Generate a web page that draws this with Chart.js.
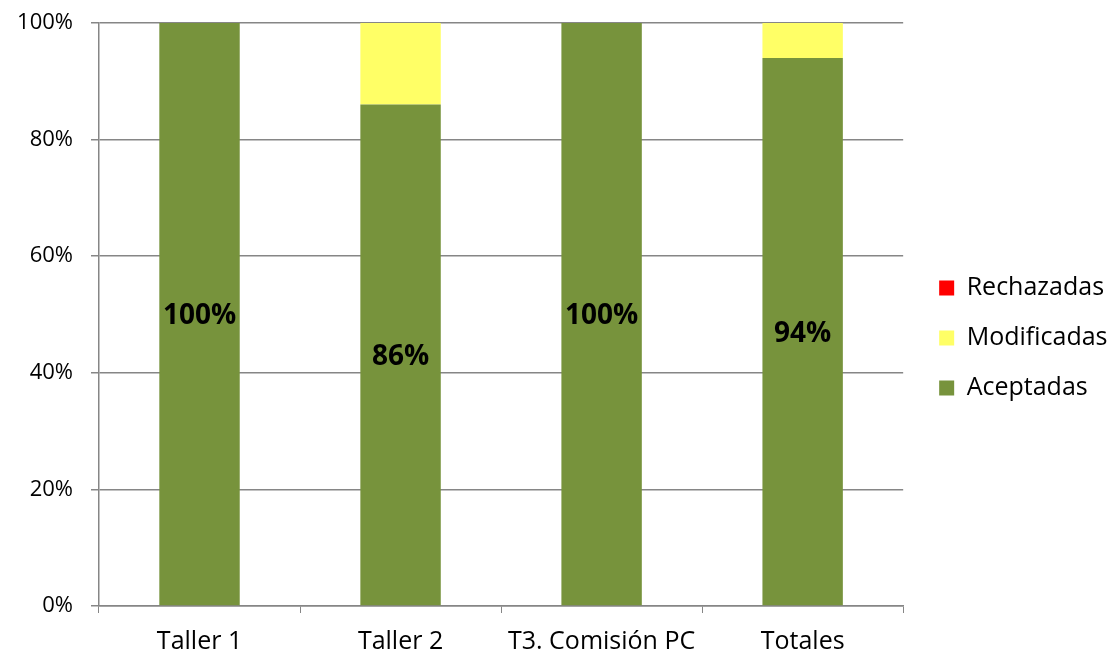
<!DOCTYPE html>
<html>
<head>
<meta charset="utf-8">
<script src="https://cdn.jsdelivr.net/npm/chart.js@4"></script>
<style>
  html, body { margin: 0; padding: 0; background: #fff; }
  #wrap { width: 1111px; height: 653px; }
</style>
</head>
<body>
<div id="wrap"><canvas id="grafica1" width="1111" height="653"></canvas></div>
<script>
// Datos (porcentajes)
const categorias = ['Taller 1', 'Taller 2', 'T3. Comisión PC', 'Totales'];
const aceptadas = [100, 86, 100, 94];
const modificadas = [0, 14, 0, 6];
const rechazadas = [0, 0, 0, 0];
const ticksY = [0, 20, 40, 60, 80, 100];

const gris = '#868686';
const fuente = '"Open Sans", sans-serif';

// Etiquetas de datos solo para Aceptadas (centradas en la barra)
const etiquetas = {
    id: 'etiquetas',
    afterDatasetsDraw(chart) {
        const ctx = chart.ctx;
        const meta = chart.getDatasetMeta(0);
        ctx.save();
        ctx.font = 'bold 28px ' + fuente;
        ctx.fillStyle = '#000';
        ctx.textAlign = 'center';
        ctx.textBaseline = 'middle';
        meta.data.forEach((bar, i) => {
            const y = (bar.y + bar.base) / 2;
            ctx.fillText(aceptadas[i] + '%', bar.x, y + 2);
        });
        ctx.restore();
    }
};

const ctx = document.getElementById('grafica1').getContext('2d');
window.miGrafica = new Chart(ctx, {
    type: 'bar',
    data: {
        labels: categorias,
        datasets: [
            { label: 'Aceptadas', data: aceptadas, backgroundColor: '#77933C' },
            { label: 'Modificadas', data: modificadas, backgroundColor: '#FFFF66' },
            { label: 'Rechazadas', data: rechazadas, backgroundColor: '#FF0000' }
        ]
    },
    options: {
        responsive: false,
        animation: false,
        barPercentage: 0.4,
        categoryPercentage: 1,
        // left negativo: el eje Y se ensancha en afterFit (deja sitio a la leyenda)
        layout: { padding: { top: 23, left: -100, right: -6, bottom: 0 } },
        plugins: {
            legend: {
                position: 'right',
                reverse: true,
                labels: {
                    color: '#000',
                    font: { family: fuente, size: 25 },
                    boxWidth: 15,
                    boxHeight: 15,
                    padding: 25
                }
            },
            tooltip: { enabled: false }
        },
        scales: {
            x: {
                stacked: true,
                grid: {
                    drawOnChartArea: false,
                    drawTicks: true,
                    tickLength: 7,
                    color: gris
                },
                border: { color: gris, width: 1.5 },
                ticks: {
                    color: '#000',
                    font: { family: fuente, size: 25, lineHeight: 1 },
                    padding: 16
                },
                afterFit: s => { s.height = 47; }
            },
            y: {
                stacked: true,
                min: 0,
                max: 100,
                afterBuildTicks: axis => { axis.ticks = ticksY.map(v => ({ value: v })); },
                grid: { color: gris, lineWidth: 1.5, tickLength: 8 },
                border: { color: gris, width: 1.5 },
                ticks: {
                    color: '#000',
                    font: { family: fuente, size: 22 },
                    padding: 18,
                    callback: v => v + '%'
                },
                afterFit: s => { s.width = 199; s.paddingTop = 0; s.paddingBottom = 0; }
            },
            // eje vacío: solo deja espacio entre el gráfico y la leyenda
            yVacio: {
                type: 'linear',
                position: 'right',
                display: true,
                grid: { display: false },
                border: { display: false },
                ticks: { display: false },
                afterFit: s => { s.width = 11; }
            }
        }
    },
    plugins: [etiquetas]
});
</script>
</body>
</html>
